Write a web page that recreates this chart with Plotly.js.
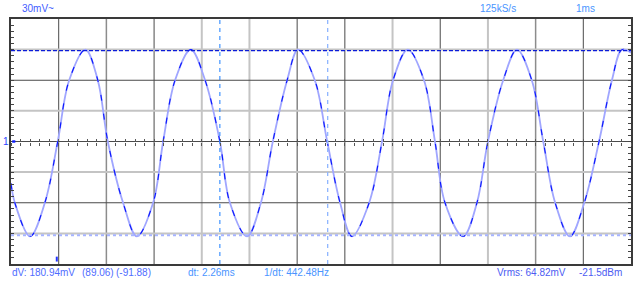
<!DOCTYPE html>
<html>
<head>
<meta charset="utf-8">
<script src="https://cdn.plot.ly/plotly-3.0.1.min.js"></script>
<style>html,body{margin:0;padding:0;background:#fff;}#chart{width:640px;height:285px;}</style>
</head>
<body>
<div id="chart"></div>
<script>
const timeMs = [0.00,0.08,0.40,0.71,0.98,1.22,1.56,1.82,2.03,2.35,2.64,2.98,3.19,3.44,3.77,4.07,4.38,4.59,4.95,5.24,5.49,5.79,6.02,6.37,6.63,6.90,7.15,7.51,7.78,8.01,8.32,8.66,8.89,9.10,9.48,9.77,10.00,10.32,10.61,10.92,11.16,11.41,11.72,12.02,12.33,12.60,12.81,13.00];
const voltageMv = [-41,-60,-93,-60,0,60,90,60,0,-60,-93,-60,0,60,90,60,0,-60,-93,-60,0,60,90,60,0,-60,-93,-60,0,60,90,60,0,-60,-93,-60,0,60,90,60,0,-60,-93,-60,0,60,90,87];

// Cursors
const cursorTimesMs = [4.38, 6.64];
const cursorLevelsMv = [89.06, -91.88];

// Grid / screen
const timeDivs = [1,2,3,4,5,6,7,8,9,10,11,12];
const timeDivShade = ['d','m','d','l','l','d','d','l','d','l','m','d'];
const levelDivs = [90,60,30,0,-30,-60,-90];
const levelDivShade = ['l','d','l','d','l','d','l'];
const timeRange = [0, 13];
const levelRange = [-120, 120];

// Readouts
const topLabels = ['30mV~', '125kS/s', '1ms'];
const bottomLabels = ['dV: 180.94mV', '(89.06)', '(-91.88)', 'dt: 2.26ms', '1/dt: 442.48Hz', 'Vrms: 64.82mV', '-21.5dBm'];

const shadeStyle = {d:{c:'#4a4a4a',w:1}, m:{c:'#8c8c8c',w:1.5}, l:{c:'#c4c4c4',w:2}};

const shapes = [];
timeDivs.forEach((t,i)=>{
  const s = shadeStyle[timeDivShade[i]];
  shapes.push({type:'line', layer:'below', xref:'x', yref:'paper', x0:t, x1:t, y0:0, y1:1, line:{color:s.c, width:s.w}});
});
levelDivs.forEach((v,i)=>{
  const s = shadeStyle[levelDivShade[i]];
  shapes.push({type:'line', layer:'below', xref:'paper', yref:'y', x0:0, x1:1, y0:v, y1:v, line:{color:s.c, width:s.w}});
});
// channel marker and trigger marker
shapes.push({type:'rect', xref:'paper', yref:'y', x0:0.002, x1:0.007, y0:-1.2, y1:1.2, fillcolor:'#0a1aff', line:{width:0}});
shapes.push({type:'line', xref:'x', yref:'paper', x0:timeMs[4]-0.02, x1:timeMs[4]-0.02, y0:0.01, y1:0.03, line:{color:'#2233ff', width:2}});

const traces = [];
// waveform: light base + darker interleaved segments
traces.push({x:timeMs, y:voltageMv, type:'scatter', mode:'lines', line:{color:'#a0a6ff', width:1.8, shape:'spline', smoothing:1.0}, hoverinfo:'skip', xaxis:'x', yaxis:'y'});
traces.push({x:timeMs, y:voltageMv, type:'scatter', mode:'lines', line:{color:'#0a16ff', width:1.1, shape:'spline', smoothing:1.0, dash:'6px,13px'}, hoverinfo:'skip', xaxis:'x', yaxis:'y'});
// horizontal cursors
traces.push({x:timeRange, y:[cursorLevelsMv[0], cursorLevelsMv[0]], type:'scatter', mode:'lines', line:{color:'#0b1bd8', width:1.3, dash:'4px,2px'}, hoverinfo:'skip', xaxis:'x3', yaxis:'y'});
traces.push({x:timeRange, y:[cursorLevelsMv[1], cursorLevelsMv[1]], type:'scatter', mode:'lines', line:{color:'#a6b4ff', width:2, dash:'3px,3px'}, hoverinfo:'skip', xaxis:'x3', yaxis:'y'});
// vertical cursors
traces.push({x:[cursorTimesMs[0], cursorTimesMs[0]], y:levelRange, type:'scatter', mode:'lines', line:{color:'#1a7dff', width:1, dash:'4px,4px'}, hoverinfo:'skip', xaxis:'x2', yaxis:'y'});
traces.push({x:[cursorTimesMs[1], cursorTimesMs[1]], y:levelRange, type:'scatter', mode:'lines', line:{color:'#8fb6ff', width:1.3, dash:'4px,4px'}, hoverinfo:'skip', xaxis:'x2', yaxis:'y'});

const W = 620, L = 11;
const px = v => (v - L) / W;
const fontBase = {family:'"Liberation Sans", Arial, sans-serif', size:10};
const ann = (text, x, y, color) => ({text, x:px(x), y, xref:'paper', yref:'paper', xanchor:'left', yanchor:'middle', showarrow:false, borderpad:0, font:Object.assign({}, fontBase, {color})});
const yTop = (264 - 9) / 245, yBot = (264 - 272) / 245;
const annotations = [
  ann(topLabels[0], 21, yTop, '#3f5cff'),
  ann(topLabels[1], 479, yTop, '#4a95ff'),
  ann(topLabels[2], 575, yTop, '#4a95ff'),
  ann(bottomLabels[0], 11, yBot, '#4f6cff'),
  ann(bottomLabels[1], 81, yBot, '#4f6cff'),
  ann(bottomLabels[2], 115, yBot, '#4f6cff'),
  ann(bottomLabels[3], 187, yBot, '#4a95ff'),
  ann(bottomLabels[4], 263, yBot, '#4a95ff'),
  ann(bottomLabels[5], 496, yBot, '#4c5cf2'),
  ann(bottomLabels[6], 578, yBot, '#4c5cf2'),
  {text:'1', x:px(2), y:0.5, xref:'paper', yref:'paper', xanchor:'left', yanchor:'middle', showarrow:false, borderpad:0, font:Object.assign({}, fontBase, {color:'#2a44ff'})}
];

const centerAxis = (ticks) => ({overlaying:'x', anchor:'free', position:0.5, range:timeRange, tick0:0, dtick:0.2, ticks:ticks, ticklen:3, tickwidth:1, tickcolor:'#555', showticklabels:false, showgrid:false, zeroline:false, showline:false, fixedrange:true});

const layout = {
  width:640, height:285,
  margin:{l:11, r:9, t:19, b:21, pad:0},
  paper_bgcolor:'#ffffff', plot_bgcolor:'#ffffff',
  showlegend:false,
  xaxis:{range:timeRange, showgrid:false, zeroline:false, showticklabels:false, ticks:'', showline:true, linecolor:'#3a3a3a', linewidth:2, mirror:true, fixedrange:true},
  xaxis2:centerAxis('outside'),
  xaxis3:centerAxis('inside'),
  yaxis:{range:levelRange, showgrid:false, zeroline:false, showticklabels:false, tick0:0, dtick:6, ticks:'inside', ticklen:3, tickwidth:1, tickcolor:'#444', showline:true, linecolor:'#3a3a3a', linewidth:2, mirror:'ticks', fixedrange:true},
  shapes, annotations
};

Plotly.newPlot('chart', traces, layout, {displayModeBar:false, staticPlot:true});
</script>
</body>
</html>
